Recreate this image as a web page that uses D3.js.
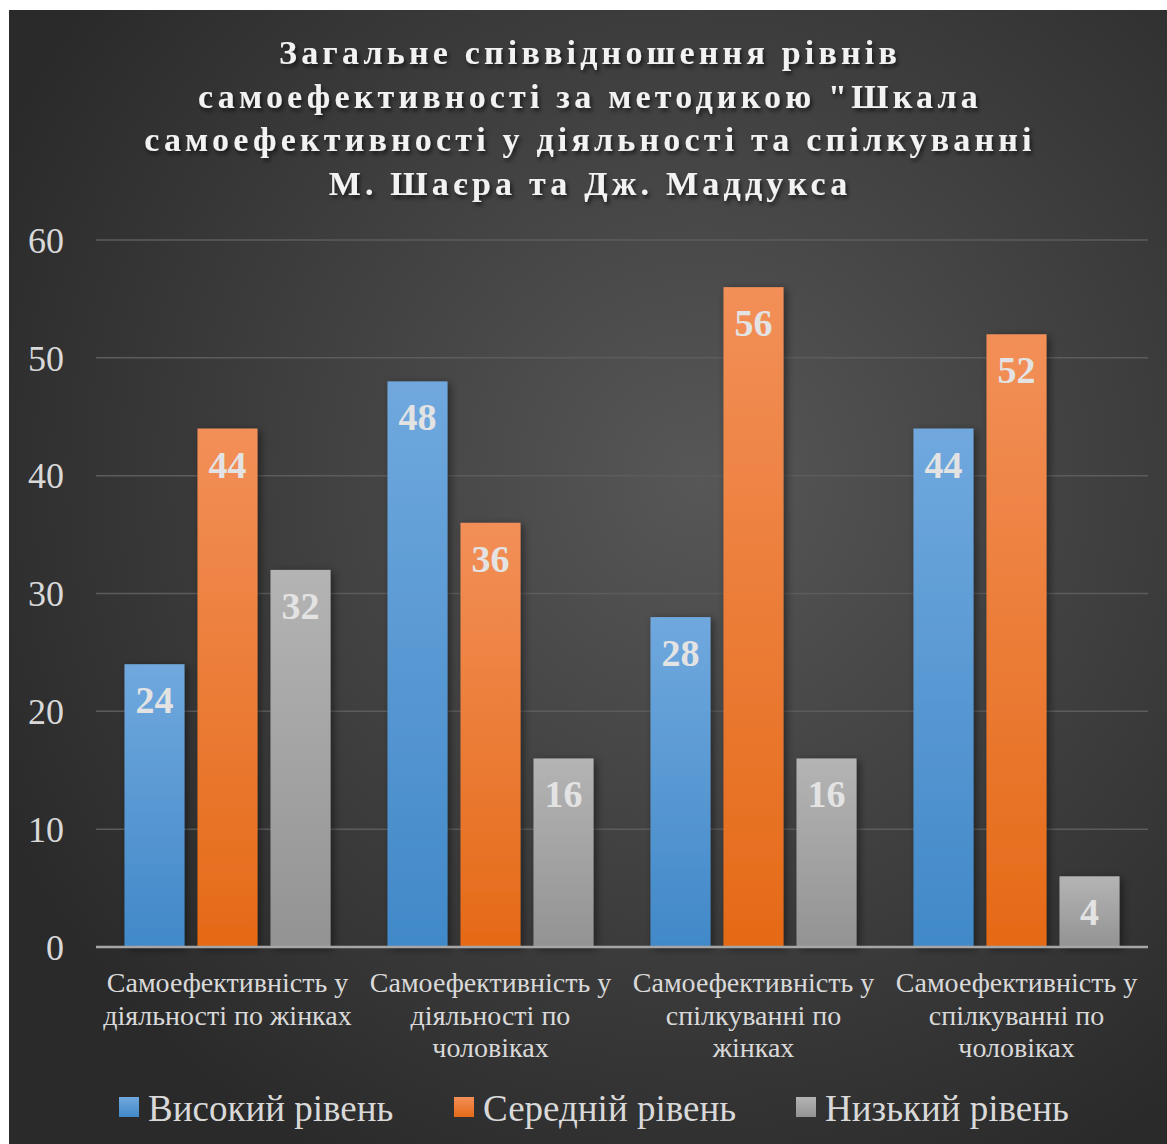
<!DOCTYPE html>
<html>
<head>
<meta charset="utf-8">
<script src="https://cdn.jsdelivr.net/npm/d3@7"></script>
<style>
  body { margin: 0; background: #fff; }
  svg text { font-family: "Liberation Serif", "Times New Roman", serif; }
</style>
</head>
<body>
<div id="chart"></div>
<script>
const titleLines = [
  "Загальне співвідношення рівнів",
  "самоефективності за методикою \"Шкала",
  "самоефективності у діяльності та спілкуванні",
  "М. Шаєра та Дж. Маддукса"
];
const categories = ["c1", "c2", "c3", "c4"];
const categoryLines = [
  ["Самоефективність у", "діяльності по жінках"],
  ["Самоефективність у", "діяльності по", "чоловіках"],
  ["Самоефективність у", "спілкуванні по", "жінках"],
  ["Самоефективність у", "спілкуванні по", "чоловіках"]
];
const seriesNames = ["Високий рівень", "Середній рівень", "Низький рівень"];
const highValues = [24, 48, 28, 44];
const midValues = [44, 36, 56, 52];
const lowValues = [32, 16, 16, 6];
const highLabels = ["24", "48", "28", "44"];
const midLabels = ["44", "36", "56", "52"];
const lowLabels = ["32", "16", "16", "4"];
const yTicks = [0, 10, 20, 30, 40, 50, 60];

const seriesValues = [highValues, midValues, lowValues];
const seriesLabels = [highLabels, midLabels, lowLabels];
const gradStops = [["#70a8de", "#4189c8"], ["#f28f58", "#e56a17"], ["#b4b4b4", "#939393"]];

const W = 1167, H = 1144;
const svg = d3.select("#chart").append("svg")
  .attr("width", W).attr("height", H);

const defs = svg.append("defs");
const bg = defs.append("radialGradient").attr("id", "bg")
  .attr("gradientUnits", "userSpaceOnUse")
  .attr("cx", 700).attr("cy", 480).attr("r", 780);
bg.append("stop").attr("offset", "0%").attr("stop-color", "#575757");
bg.append("stop").attr("offset", "100%").attr("stop-color", "#2a2a2a");

gradStops.forEach((c, i) => {
  const g = defs.append("linearGradient").attr("id", "g" + i)
    .attr("x1", 0).attr("y1", 0).attr("x2", 0).attr("y2", 1);
  g.append("stop").attr("offset", "0%").attr("stop-color", c[0]);
  g.append("stop").attr("offset", "100%").attr("stop-color", c[1]);
});

const shadow = defs.append("filter").attr("id", "shadow")
  .attr("x", "-30%").attr("y", "-10%").attr("width", "160%").attr("height", "120%");
shadow.append("feDropShadow").attr("dx", 3).attr("dy", 2)
  .attr("stdDeviation", 4).attr("flood-color", "#000").attr("flood-opacity", 0.45);

const tshadow = defs.append("filter").attr("id", "tshadow")
  .attr("x", "-10%").attr("y", "-30%").attr("width", "120%").attr("height", "160%");
tshadow.append("feDropShadow").attr("dx", 2).attr("dy", 3)
  .attr("stdDeviation", 2).attr("flood-color", "#000").attr("flood-opacity", 0.6);

// background (white border top/left like the source)
svg.append("rect").attr("x", 9).attr("y", 10)
  .attr("width", W - 9).attr("height", H - 10).attr("fill", "url(#bg)");

// title
svg.append("g").attr("filter", "url(#tshadow)")
  .selectAll("text").data(titleLines).enter().append("text")
  .attr("x", 590).attr("y", (d, i) => 64 + i * 43.5)
  .attr("text-anchor", "middle")
  .attr("font-size", 34).attr("font-weight", "bold")
  .attr("letter-spacing", 4.2)
  .attr("fill", "#f2f2f2")
  .text(d => d);

const x0 = d3.scaleBand().domain(categories).range([96, 1148]);
const x1 = d3.scaleBand().domain(d3.range(3)).range([0, x0.bandwidth()])
  .paddingInner(0.178).paddingOuter(0.39);
const y = d3.scaleLinear().domain([0, 60]).range([947, 240]);

// gridlines
svg.append("g").selectAll("line").data(yTicks.filter(t => t > 0)).enter().append("line")
  .attr("x1", 96).attr("x2", 1148)
  .attr("y1", d => y(d)).attr("y2", d => y(d))
  .attr("stroke", "#5c5c5c").attr("stroke-width", 1.5);

// y axis labels
const yAxis = svg.append("g").attr("transform", "translate(64,0)")
  .call(d3.axisLeft(y).tickValues(yTicks).tickSize(0).tickPadding(0));
yAxis.select(".domain").remove();
yAxis.selectAll("text")
  .attr("font-size", 36).attr("fill", "#d9d9d9")
  .attr("dy", "0.34em");

// bars
const groups = svg.append("g").selectAll("g").data(categories).enter().append("g")
  .attr("transform", d => `translate(${x0(d)},0)`);

groups.each(function(cat, ci) {
  const g = d3.select(this);
  seriesValues.forEach((vals, si) => {
    g.append("rect")
      .attr("x", x1(si)).attr("width", x1.bandwidth())
      .attr("y", y(vals[ci])).attr("height", y(0) - y(vals[ci]))
      .attr("fill", `url(#g${si})`)
      .attr("filter", "url(#shadow)");
  });
  seriesValues.forEach((vals, si) => {
    g.append("text")
      .attr("x", x1(si) + x1.bandwidth() / 2)
      .attr("y", y(vals[ci]) + 49)
      .attr("text-anchor", "middle")
      .attr("font-size", 38).attr("font-weight", "bold")
      .attr("fill", "#e3e3e3")
      .text(seriesLabels[si][ci]);
  });
});

// x axis baseline
svg.append("line").attr("x1", 96).attr("x2", 1148)
  .attr("y1", y(0)).attr("y2", y(0))
  .attr("stroke", "#a6a6a6").attr("stroke-width", 2.5);

// category labels
categories.forEach((cat, ci) => {
  svg.append("text")
    .attr("x", x0(cat) + x0.bandwidth() / 2)
    .attr("text-anchor", "middle")
    .attr("font-size", 28).attr("fill", "#d9d9d9")
    .selectAll("tspan").data(categoryLines[ci]).enter().append("tspan")
    .attr("x", x0(cat) + x0.bandwidth() / 2)
    .attr("y", (d, i) => 992 + i * 32.5)
    .text(d => d);
});

// legend
const legendX = [119, 454, 796];
const legend = svg.append("g").selectAll("g").data(seriesNames).enter().append("g")
  .attr("transform", (d, i) => `translate(${legendX[i]},0)`);
legend.append("rect").attr("x", 0).attr("y", 1097)
  .attr("width", 20).attr("height", 20)
  .attr("fill", (d, i) => `url(#g${i})`);
legend.append("text").attr("x", 29).attr("y", 1121)
  .attr("font-size", 37).attr("fill", "#d9d9d9")
  .text(d => d);
</script>
</body>
</html>
